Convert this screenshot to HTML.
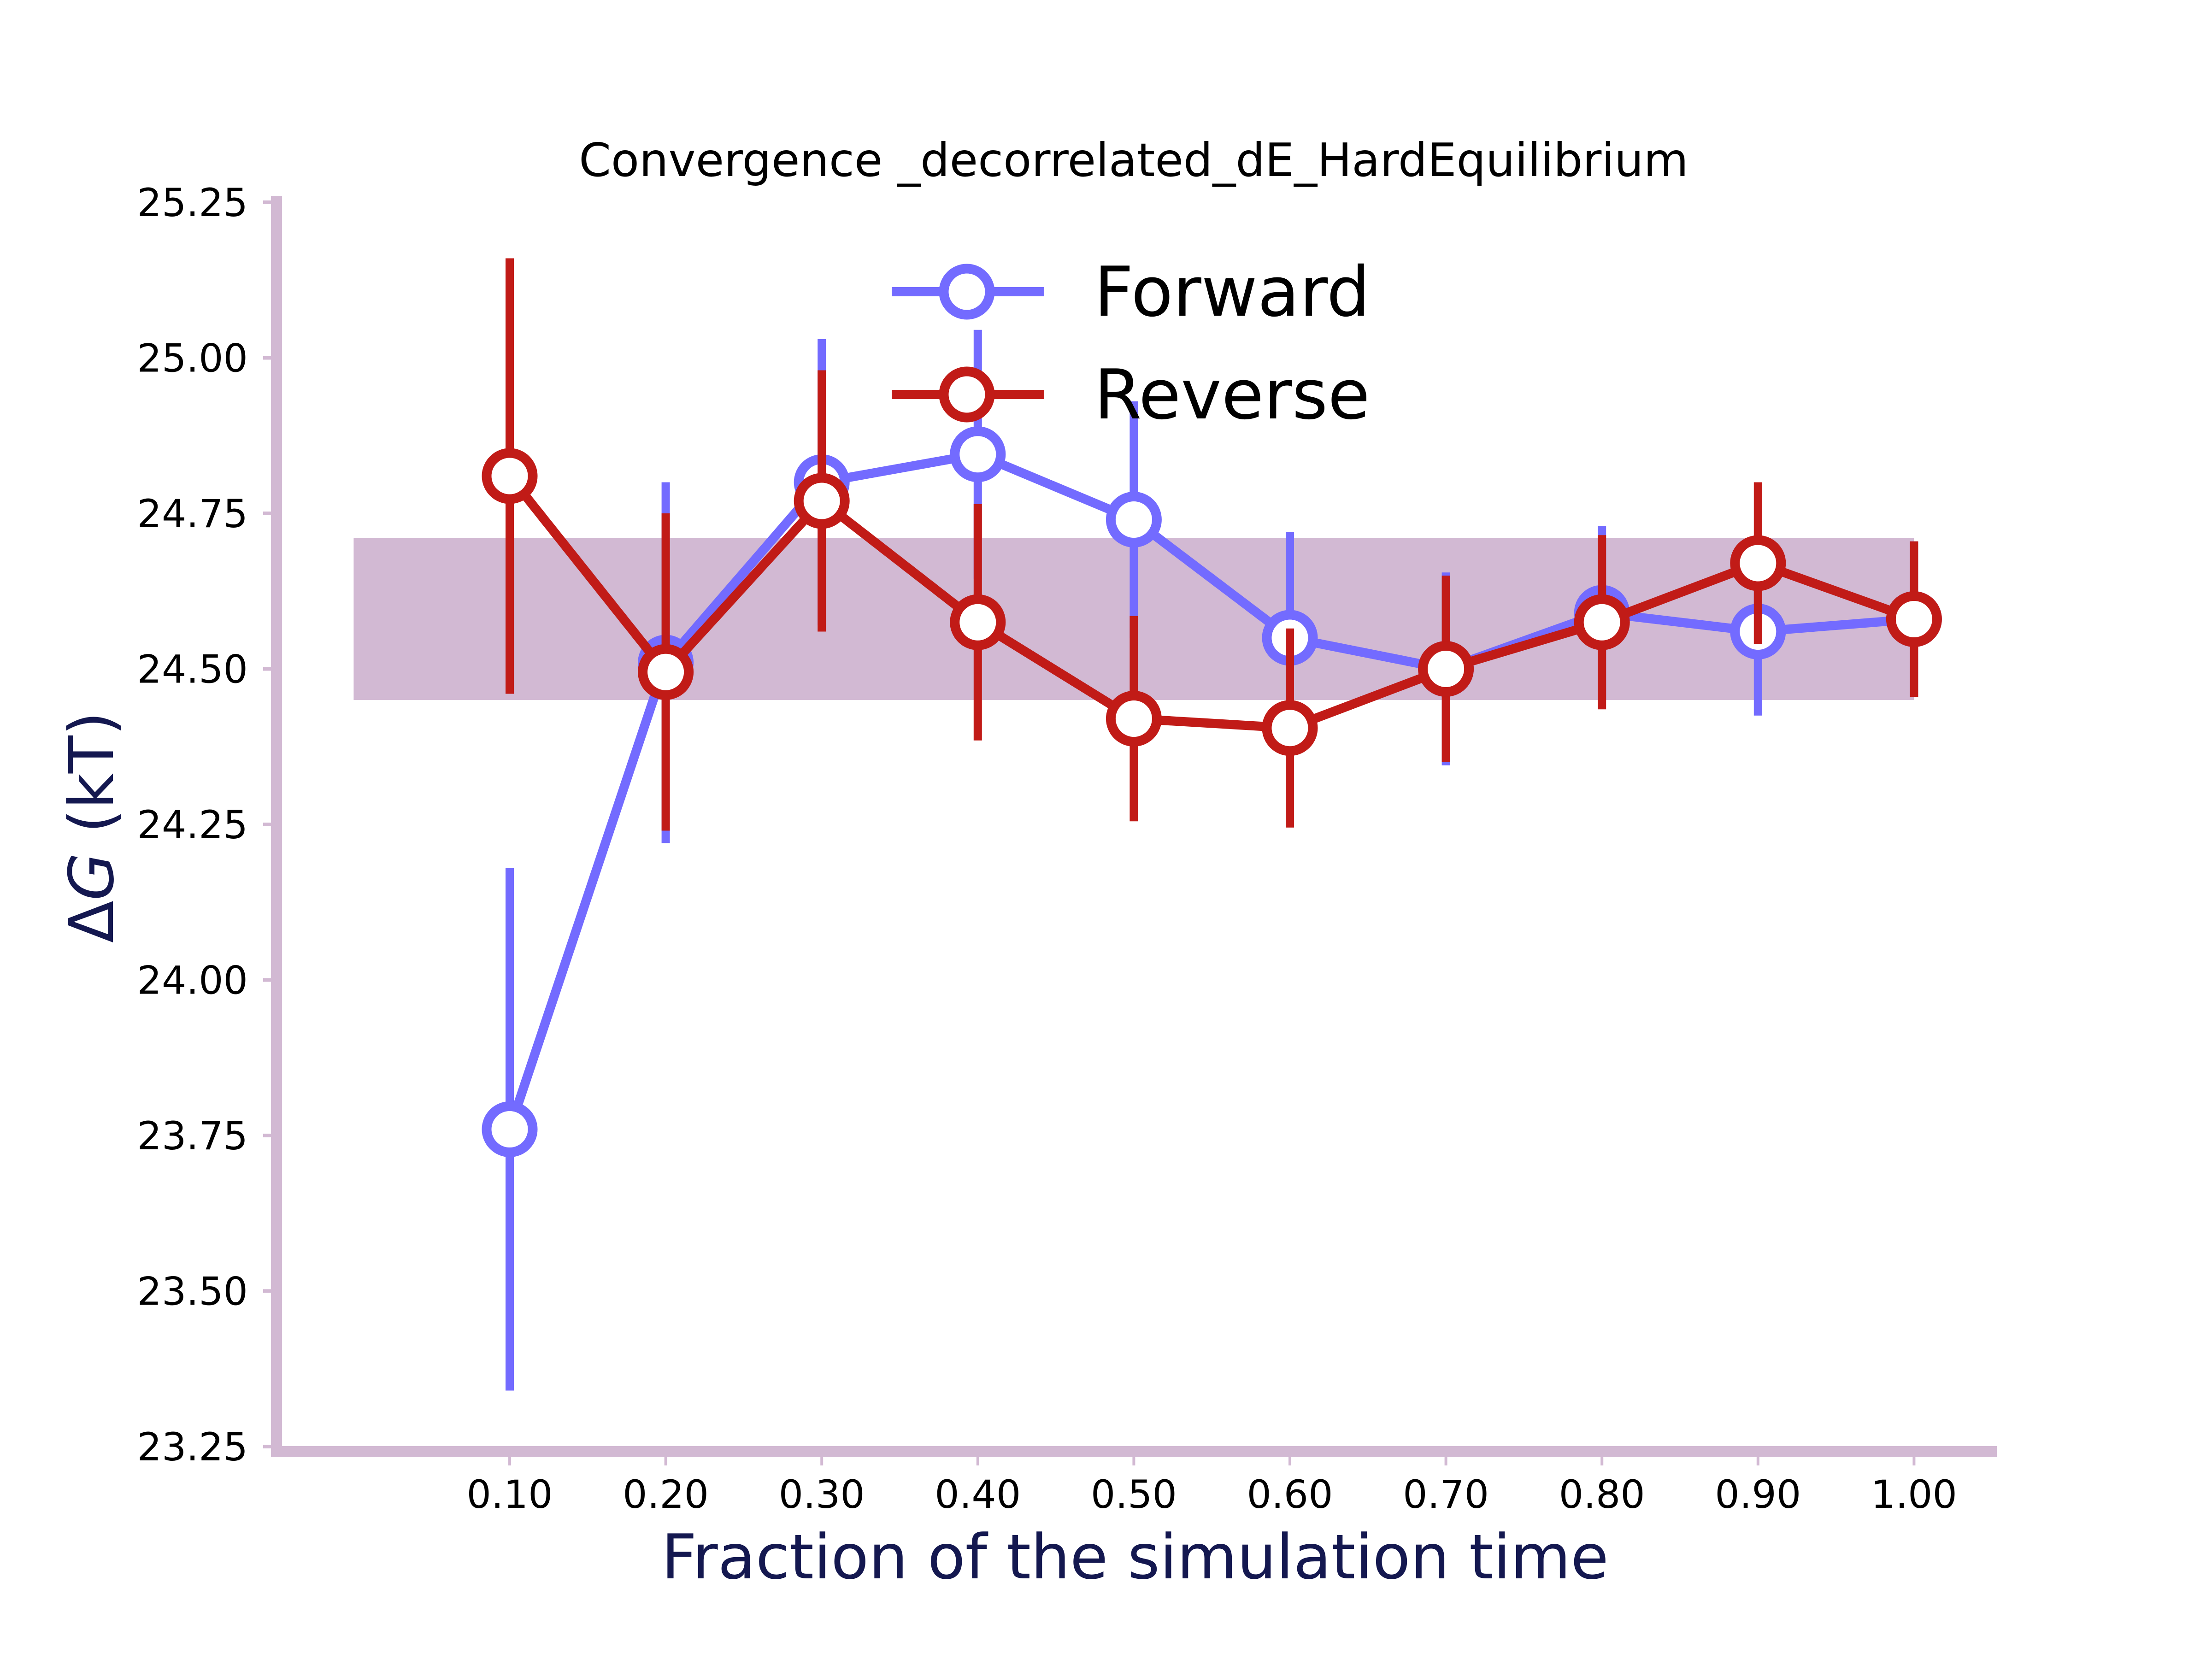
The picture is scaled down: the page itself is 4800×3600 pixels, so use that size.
<!DOCTYPE html>
<html><head><meta charset="utf-8">
<style>html,body{margin:0;padding:0;background:#fff;}svg{display:block;font-family:"DejaVu Sans","Liberation Sans",sans-serif;}</style>
</head><body>
<svg id="chart" width="4800" height="3600" viewBox="0 0 4800 3600" xmlns="http://www.w3.org/2000/svg">
<rect width="4800" height="3600" fill="#fff"/>
<text x="2460" y="382" font-size="100" text-anchor="middle" fill="#000">Convergence _decorrelated_dE_HardEquilibrium</text>
<g id="band"></g>
<g id="axes"></g>
<g id="series"></g>
<text x="2463" y="3425" font-size="134" text-anchor="middle" fill="#141850">Fraction of the simulation time</text>
<text transform="translate(245,1795) rotate(-90)" font-size="134" text-anchor="middle" fill="#141850">Δ<tspan font-style="italic">G</tspan> (kT)</text>
<g>
  <line x1="1935" y1="633" x2="2266" y2="633" stroke="#736bff" stroke-width="20"/>
  <circle cx="2098" cy="633" r="50" fill="#fff" stroke="#736bff" stroke-width="21"/>
  <text x="2374" y="685" font-size="149" fill="#000">Forward</text>
  <line x1="1935" y1="856" x2="2266" y2="856" stroke="#c11b17" stroke-width="20"/>
  <circle cx="2098" cy="856" r="50" fill="#fff" stroke="#c11b17" stroke-width="21"/>
  <text x="2374" y="908" font-size="149" fill="#000">Reverse</text>
</g>
</svg>
<script>
const fractions = [0.1,0.2,0.3,0.4,0.5,0.6,0.7,0.8,0.9,1.0];
const forwardValues = [23.76,24.51,24.80,24.845,24.74,24.55,24.50,24.59,24.56,24.58];
const forwardErrors = [0.42,0.29,0.23,0.20,0.19,0.17,0.155,0.14,0.135,0.125];
const reverseValues = [24.81,24.495,24.77,24.575,24.42,24.405,24.50,24.575,24.67,24.58];
const reverseErrors = [0.35,0.255,0.21,0.19,0.165,0.16,0.15,0.14,0.13,0.125];
const yTicks = [23.25,23.5,23.75,24.0,24.25,24.5,24.75,25.0,25.25];
const xTickLabels = ["0.10","0.20","0.30","0.40","0.50","0.60","0.70","0.80","0.90","1.00"];
const bandRange = [0.0, 1.0, 24.45, 24.71];

const NS = "http://www.w3.org/2000/svg";
const xs = v => 1106 + (v - 0.1) * 3386;
const ys = v => 439 + (25.25 - v) * 1350;
function mk(tag, attrs, parent){const e=document.createElementNS(NS,tag);for(const k in attrs)e.setAttribute(k,attrs[k]);parent.appendChild(e);return e;}

const band = document.getElementById('band');
const br = mk('rect',{x:xs(bandRange[0]),y:ys(bandRange[3]),width:xs(bandRange[1])-xs(bandRange[0]),height:ys(bandRange[2])-ys(bandRange[3]),fill:'#d2b9d3'},band);



const axes = document.getElementById('axes');
const ysp = mk('rect',{x:588,y:425,width:24,height:2725,fill:'#d2b9d3'},axes);


const xsp = mk('rect',{x:588,y:3138,width:3745,height:24,fill:'#d2b9d3'},axes);


yTicks.forEach(t=>{
  const l = mk('line',{x1:571,x2:600,y1:ys(t),y2:ys(t),stroke:'#d2b9d3','stroke-width':8},axes);
  
  
  const tx = mk('text',{x:538,y:ys(t)+30,'font-size':84,'text-anchor':'end',fill:'#000'},axes);
  tx.textContent = t.toFixed(2);
  
  
});
fractions.forEach((f,i)=>{
  const l = mk('line',{x1:xs(f),x2:xs(f),y1:3160,y2:3180,stroke:'#d2b9d3','stroke-width':6},axes);
  
  
  const tx = mk('text',{x:xs(f),y:3272,'font-size':84,'text-anchor':'middle',fill:'#000'},axes);
  tx.textContent = xTickLabels[i];
  
  
});

const series = document.getElementById('series');
function drawSeries(vals, errs, color, name){
  const g = mk('g',{},series);
  
  
  fractions.forEach((f,i)=>{
    const e = mk('line',{x1:xs(f),x2:xs(f),y1:ys(vals[i]+errs[i]),y2:ys(vals[i]-errs[i]),stroke:color,'stroke-width':18},g);
    
    
  });
  const p = mk('polyline',{points:fractions.map((f,i)=>xs(f)+','+ys(vals[i])).join(' '),fill:'none',stroke:color,'stroke-width':20,'stroke-linejoin':'round'},g);
  
  
  fractions.forEach((f,i)=>{
    const c = mk('circle',{cx:xs(f),cy:ys(vals[i]),r:50,fill:'#fff',stroke:color,'stroke-width':21},g);
    
    
  });
}
drawSeries(forwardValues, forwardErrors, '#736bff', 'forward');
drawSeries(reverseValues, reverseErrors, '#c11b17', 'reverse');
</script>
</body></html>
